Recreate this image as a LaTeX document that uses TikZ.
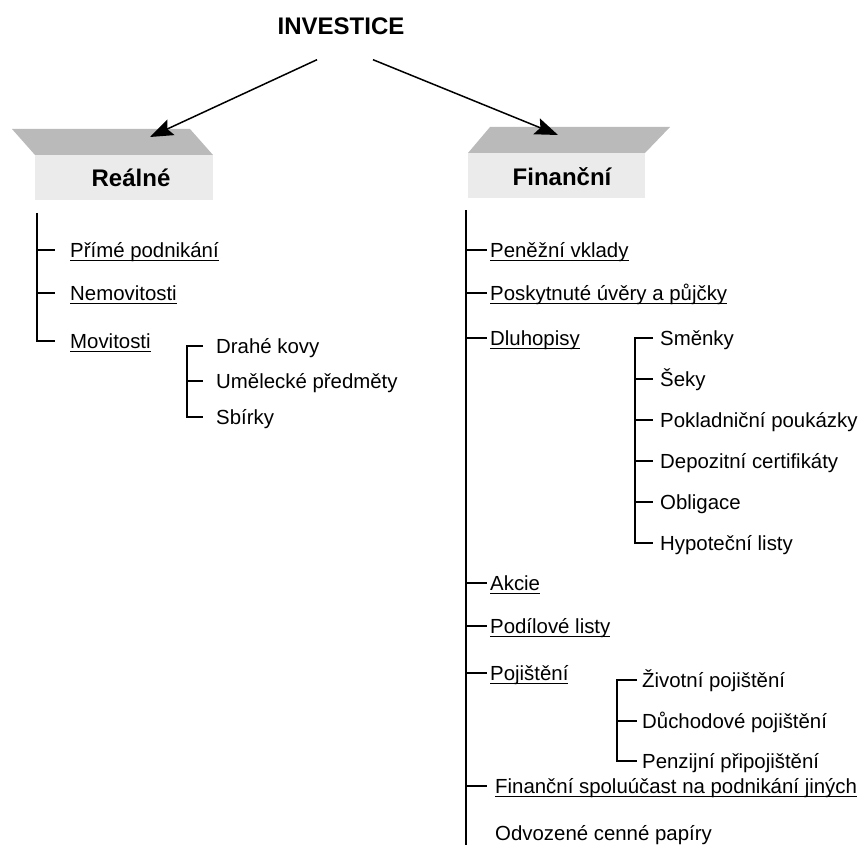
\documentclass[tikz,border=0pt]{standalone}
\usepackage{fontspec}
\setmainfont{Liberation Sans}
\usepackage{tikz}
\usetikzlibrary{arrows.meta,positioning}
\newsavebox{\ulbox}
\newcommand{\ulined}[1]{\sbox{\ulbox}{#1}\rlap{\rule[-4pt]{\wd\ulbox}{1pt}}\usebox{\ulbox}}
\tikzset{
	head/.style={
		inner sep=0pt,
		font=\fontsize{24}{28}\selectfont\bfseries
	},
	item/.style={
		anchor=base west,
		inner ysep=0pt,
		inner xsep=#1,
		text height=14pt,
		text depth=0pt,
		font=\fontsize{20.4}{24}\selectfont
	},
	item/.default=3pt,
	boxtop/.style={fill=black!27},
	boxfront/.style={fill=black!8},
	tree/.style={draw, line width=1.3pt},
	arr/.style={
		draw,
		line width=1.5pt,
		-{Stealth[length=23pt,width=17pt,inset=4pt]}
	}
}

\begin{document}
\begin{tikzpicture}[x=1pt,y=-1pt]
	\useasboundingbox (0,0) rectangle (862,845);
	\node[head] (inv) at (341,26) {INVESTICE};

	\fill[boxtop] (12,129) -- (190,129) -- (213,155) -- (35,155) -- cycle;
	\fill[boxfront] (35,155) rectangle (213,200);
	\node[head] (real) at (131,178) {Reálné};
	\fill[boxtop] (490,127) -- (670,127) -- (645,153) -- (468,153) -- cycle;
	\fill[boxfront] (468,153) rectangle (645,198);
	\node[head] (fin) at (562,177) {Finanční};

	\coordinate (realtip) at (150,137);
	\coordinate (fintip) at (558,135);
	\draw[arr] ([shift={(-24,25)}]inv.south) -- (realtip);
	\draw[arr] ([shift={(32,25)}]inv.south) -- (fintip);

	% realne
	\node[item=15pt] (prime) at (55,257) {\ulined{Přímé podnikání}};
	\node[item=15pt] (nemo) at (55,300) {\ulined{Nemovitosti}};
	\node[item=15pt] (movi) at (55,348) {\ulined{Movitosti}};
	\coordinate (rline) at (37,213);
	\draw[tree] (rline) |- (movi.west);
	\foreach \n in {prime,nemo}
		\draw[tree] (\n.west -| rline) -- (\n.west);

	\node[item=13pt] (kovy) at (203,353) {Drahé kovy};
	\node[item=13pt] (umel) at (203,388) {Umělecké předměty};
	\node[item=13pt] (sbir) at (203,424) {Sbírky};
	\coordinate (mline) at (187,0);
	\draw[tree] (kovy.west) -- (kovy.west -| mline) -- (sbir.west -| mline) -- (sbir.west);
	\draw[tree] (umel.west -| mline) -- (umel.west);

	% financni
	\node[item] (vkla) at (487,257) {\ulined{Peněžní vklady}};
	\node[item] (uver) at (487,300) {\ulined{Poskytnuté úvěry a půjčky}};
	\node[item] (dluh) at (487,345) {\ulined{Dluhopisy}};
	\node[item] (akci) at (487,590) {\ulined{Akcie}};
	\node[item] (podi) at (487,633) {\ulined{Podílové listy}};
	\node[item] (poji) at (487,680) {\ulined{Pojištění}};
	\node[item=8pt] (spol) at (487,793) {\ulined{Finanční spoluúčast na podnikání jiných}};
	\node[item=8pt] (odvo) at (487,840) {Odvozené cenné papíry};
	\coordinate (fline) at (466,210);
	\draw[tree] (fline) -- (fline |- 0,850);
	\foreach \n in {vkla,uver,dluh,akci,podi,poji,spol}
		\draw[tree] (\n.west -| fline) -- (\n.west);

	\node[item=7pt] (smen) at (653,345) {Směnky};
	\node[item=7pt] (seky) at (653,386) {Šeky};
	\node[item=7pt] (pokl) at (653,427) {Pokladniční poukázky};
	\node[item=7pt] (depo) at (653,468) {Depozitní certifikáty};
	\node[item=7pt] (obli) at (653,509) {Obligace};
	\node[item=7pt] (hypo) at (653,550) {Hypoteční listy};
	\coordinate (dline) at (635,0);
	\draw[tree] (smen.west) -- (smen.west -| dline) -- (hypo.west -| dline) -- (hypo.west);
	\foreach \n in {seky,pokl,depo,obli}
		\draw[tree] (\n.west -| dline) -- (\n.west);

	\node[item=5pt] (zivo) at (637,687) {Životní pojištění};
	\node[item=5pt] (duch) at (637,728) {Důchodové pojištění};
	\node[item=5pt] (penz) at (637,768) {Penzijní připojištění};
	\coordinate (pline) at (617,0);
	\draw[tree] (zivo.west) -- (zivo.west -| pline) -- (penz.west -| pline) -- (penz.west);
	\draw[tree] (duch.west -| pline) -- (duch.west);
\end{tikzpicture}
\end{document}
